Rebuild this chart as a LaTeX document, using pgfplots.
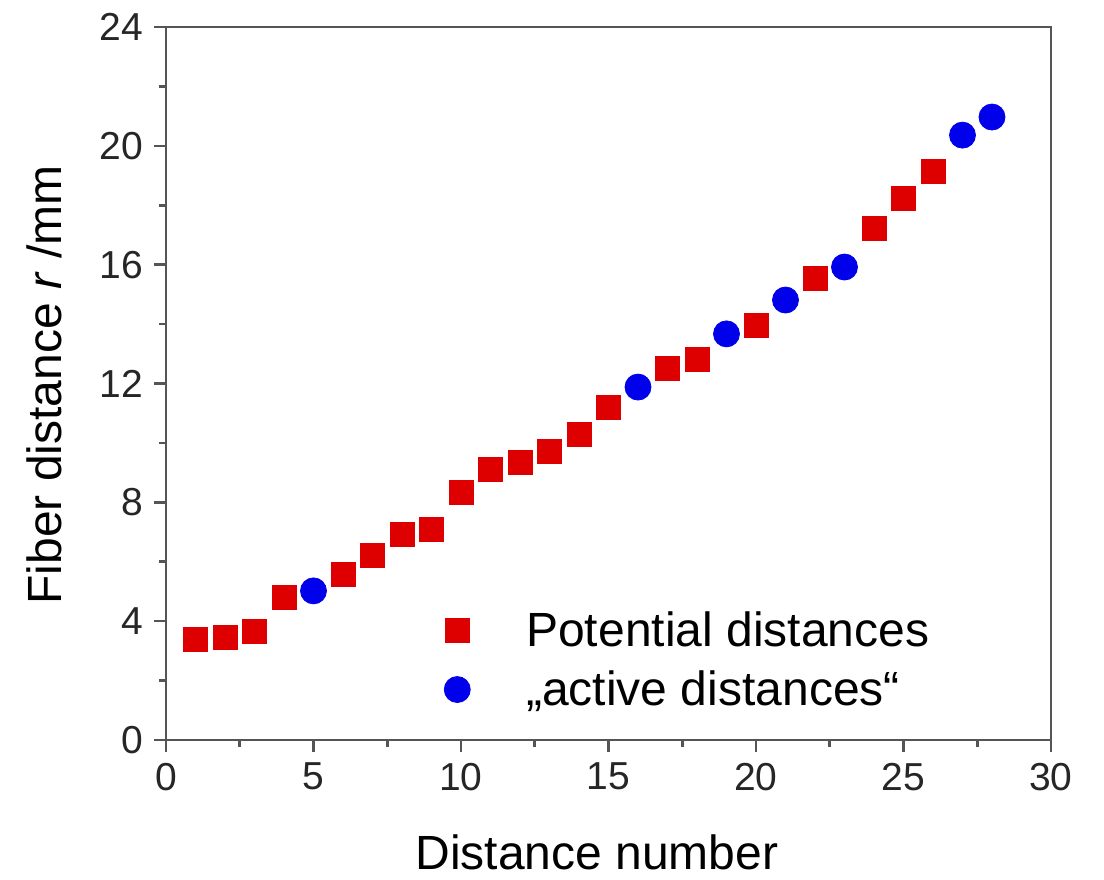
\documentclass[border=0pt]{standalone}
\usepackage{pgfplots}
\pgfplotsset{compat=1.18}
\usepackage{fontspec}
\setmainfont{Liberation Sans}
\definecolor{axgray}{RGB}{85,85,85}
\definecolor{myred}{RGB}{222,0,0}
\definecolor{myblue}{RGB}{0,0,235}
\begin{document}
\begin{tikzpicture}
\path[use as bounding box] (-83pt,-69.5pt) rectangle (469pt,370pt);
\begin{axis}[
  at={(0pt,0pt)}, anchor=south west,
  scale only axis, width=442.5pt, height=356.5pt,
  xmin=0, xmax=30, ymin=0, ymax=24,
  xtick={0,5,...,30}, ytick={0,4,...,24},
  minor x tick num=1, minor y tick num=1,
  axis line style={axgray, line width=1.3pt},
  tick style={axgray, line width=1.3pt},
  major tick length=6pt, minor tick length=3.5pt,
  tick align=outside,
  xtick pos=bottom, ytick pos=left,
  /pgf/number format/assume math mode=true,
  ticklabel style={font=\fontsize{19.5}{22}\selectfont, text=black!85},
  xticklabel style={yshift=-2pt},
  yticklabel style={xshift=-2pt},
  xlabel={Distance number},
  ylabel={Fiber distance \textit{r} /mm},
  label style={font=\fontsize{24}{28}\selectfont},
  xlabel style={at={(axis description cs:0.487,-0.157)}, anchor=center},
  ylabel style={at={(axis description cs:-0.137,0.498)}, anchor=center},
  legend cell align=left,
  legend style={draw=none, fill=none, font=\fontsize{24}{28}\selectfont,
    at={(axis description cs:0.314,0.112)}, anchor=west, inner sep=0pt,
    row sep=6.5pt,
    /tikz/every odd column/.append style={column sep=26pt}},
]
\addplot[only marks, mark=square*, mark size=6pt, color=myred, mark options={draw=none, fill=myred}] coordinates {
(1,3.40) (2,3.47) (3,3.67) (4,4.81) (6,5.59) (7,6.23) (8,6.93) (9,7.10)
(10,8.35) (11,9.12) (12,9.36) (13,9.73) (14,10.30) (15,11.21) (17,12.52)
(18,12.82) (20,13.95) (22,15.55) (24,17.23) (25,18.24) (26,19.15)
};
\addlegendentry{Potential distances}
\addplot[only marks, mark=*, mark size=6.5pt, color=myblue, mark options={draw=none, fill=myblue}] coordinates {
(5,5.02) (16,11.88) (19,13.67) (21,14.81) (23,15.92) (27,20.36) (28,20.97)
};
\addlegendentry{„active distances“}
\end{axis}
\end{tikzpicture}
\end{document}
